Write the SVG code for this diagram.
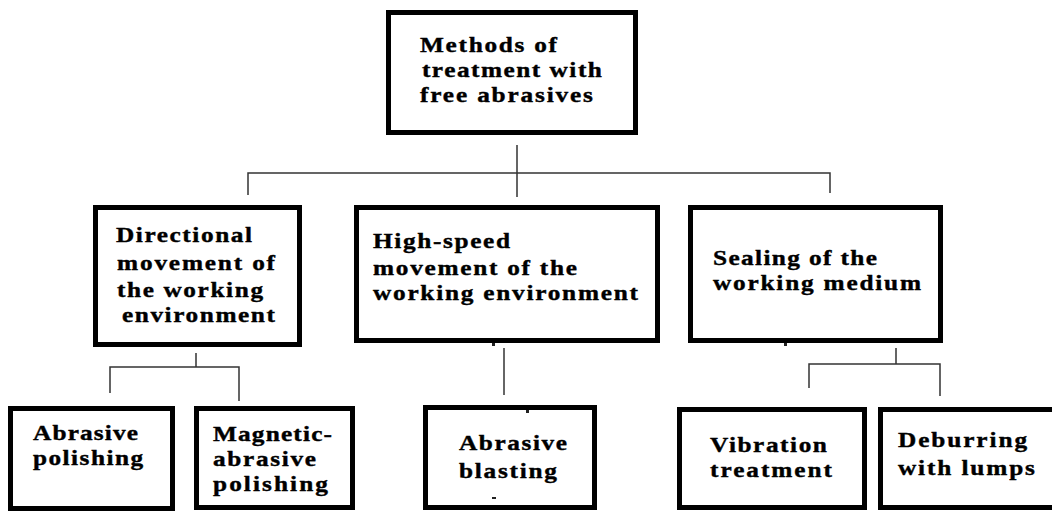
<svg xmlns="http://www.w3.org/2000/svg" width="1052" height="512" viewBox="0 0 1052 512">
<style>
.box{fill:#fff;stroke:#000;stroke-width:5}
.t{font-family:"Liberation Serif","DejaVu Serif","Times New Roman",serif;font-weight:bold;font-size:22px;fill:#000;stroke:#000;stroke-width:0.4}
.c{fill:none;stroke:#333;stroke-width:1.5}
.m{fill:#222}
</style>
<rect width="1052" height="512" fill="#fff"/>
<g id="connectors">
<path class="c" d="M517,145V173M248,195V173H830V193M517,173V197"/>
<path class="c" d="M196,353V367M110,393V367H239V401"/>
<path class="c" d="M504,348V395"/>
<path class="c" d="M896,348V364M809,388V364H940V396"/>
</g>
<g id="root">
<rect class="box" x="388.5" y="12.5" width="247" height="120"/>
<text class="t" transform="translate(420,0) scale(1.15,1)"><tspan x="0" y="52" textLength="119.1" lengthAdjust="spacing">Methods of</tspan><tspan x="1.7" y="77" textLength="156.5" lengthAdjust="spacing">treatment with</tspan><tspan x="0" y="102" textLength="150.4" lengthAdjust="spacing">free abrasives</tspan></text>
</g>
<g id="directional">
<rect class="box" x="95.5" y="207.5" width="204" height="137"/>
<text class="t" transform="translate(116,0) scale(1.15,1)"><tspan x="0" y="242" textLength="118.3" lengthAdjust="spacing">Directional</tspan><tspan x="0.9" y="270" textLength="137.4" lengthAdjust="spacing">movement of</tspan><tspan x="0.9" y="297" textLength="127" lengthAdjust="spacing">the working</tspan><tspan x="5.2" y="322" textLength="133" lengthAdjust="spacing">environment</tspan></text>
</g>
<g id="highspeed">
<rect class="box" x="356.5" y="207.5" width="301" height="133"/>
<text class="t" transform="translate(373,0) scale(1.15,1)"><tspan x="0" y="248" textLength="119.1" lengthAdjust="spacing">High-speed</tspan><tspan x="0" y="275" textLength="177.4" lengthAdjust="spacing">movement of the</tspan><tspan x="0" y="300" textLength="230.4" lengthAdjust="spacing">working environment</tspan></text>
</g>
<g id="sealing">
<rect class="box" x="690.5" y="207.5" width="250" height="133"/>
<text class="t" transform="translate(713,0) scale(1.15,1)"><tspan x="0" y="265" textLength="142.6" lengthAdjust="spacing">Sealing of the</tspan><tspan x="0" y="290" textLength="180.9" lengthAdjust="spacing">working medium</tspan></text>
</g>
<g id="abrasive-polishing">
<rect class="box" x="10.5" y="408.5" width="162" height="100"/>
<text class="t" transform="translate(33,0) scale(1.15,1)"><tspan x="0" y="440" textLength="91.3" lengthAdjust="spacing">Abrasive</tspan><tspan x="0" y="465" textLength="95.7" lengthAdjust="spacing">polishing</tspan></text>
</g>
<g id="magnetic">
<rect class="box" x="196.5" y="408.5" width="156" height="99"/>
<text class="t" transform="translate(213,0) scale(1.15,1)"><tspan x="0" y="441" textLength="103.5" lengthAdjust="spacing">Magnetic-</tspan><tspan x="0" y="466" textLength="89.6" lengthAdjust="spacing">abrasive</tspan><tspan x="0" y="491" textLength="100" lengthAdjust="spacing">polishing</tspan></text>
</g>
<g id="blasting">
<rect class="box" x="425.5" y="407.5" width="169" height="100"/>
<text class="t" transform="translate(459,0) scale(1.15,1)"><tspan x="0" y="450" textLength="93.9" lengthAdjust="spacing">Abrasive</tspan><tspan x="0" y="478" textLength="85.2" lengthAdjust="spacing">blasting</tspan></text>
</g>
<g id="vibration">
<rect class="box" x="679.5" y="409.5" width="185" height="98"/>
<text class="t" transform="translate(710,0) scale(1.15,1)"><tspan x="0" y="452" textLength="101.7" lengthAdjust="spacing">Vibration</tspan><tspan x="0" y="477" textLength="106.1" lengthAdjust="spacing">treatment</tspan></text>
</g>
<g id="deburring">
<rect class="box" x="880.5" y="409.5" width="185" height="98"/>
<text class="t" transform="translate(898,0) scale(1.15,1)"><tspan x="0" y="447" textLength="112.2" lengthAdjust="spacing">Deburring</tspan><tspan x="0" y="475" textLength="119.1" lengthAdjust="spacing">with lumps</tspan></text>
</g>
<g id="marks">
<rect class="m" x="492" y="343" width="3" height="3"/>
<rect class="m" x="784" y="343" width="3" height="3"/>
<rect class="m" x="526" y="410" width="3" height="3"/>
<rect class="m" x="492" y="497" width="4" height="2"/>
</g>
</svg>
